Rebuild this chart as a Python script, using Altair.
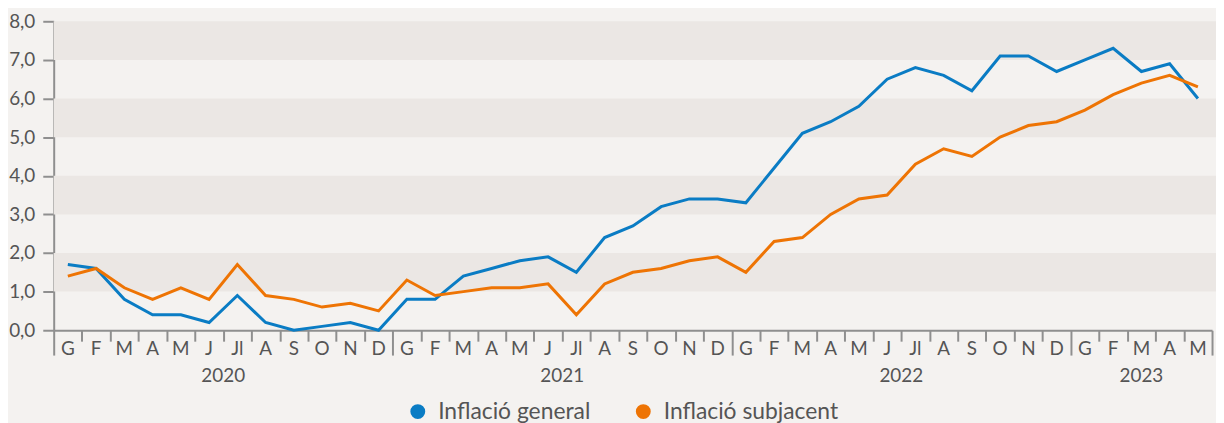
import altair as alt
import pandas as pd

months = ["G","F","M","A","M","J","Jl","A","S","O","N","D",
          "G","F","M","A","M","J","Jl","A","S","O","N","D",
          "G","F","M","A","M","J","Jl","A","S","O","N","D",
          "G","F","M","A","M"]
years = ["2020", "2021", "2022", "2023"]
year_centers = [6, 18, 30, 38.5]

general = [1.7,1.6,0.8,0.4,0.4,0.2,0.9,0.2,0.0,0.1,0.2,0.0,
           0.8,0.8,1.4,1.6,1.8,1.9,1.5,2.4,2.7,3.2,3.4,3.4,
           3.3,4.2,5.1,5.4,5.8,6.5,6.8,6.6,6.2,7.1,7.1,6.7,
           7.0,7.3,6.7,6.9,6.0]
subjacent = [1.4,1.6,1.1,0.8,1.1,0.8,1.7,0.9,0.8,0.6,0.7,0.5,
             1.3,0.9,1.0,1.1,1.1,1.2,0.4,1.2,1.5,1.6,1.8,1.9,
             1.5,2.3,2.4,3.0,3.4,3.5,4.3,4.7,4.5,5.0,5.3,5.4,
             5.7,6.1,6.4,6.6,6.3]
series_names = ["Inflació general", "Inflació subjacent"]
band_starts = [1, 3, 5, 7]

BLUE = "#0a7cc4"
ORANGE = "#ee7404"
BG = "#f4f2f0"
BAND = "#ebe7e4"
AXIS = "#8f8f8f"
TEXT = "#555555"
FONT = "Lato"

rows = []
for name, vals in zip(series_names, [general, subjacent]):
    for i, v in enumerate(vals):
        rows.append({"idx": i, "value": v, "serie": name})
lines_df = pd.DataFrame(rows)
months_df = pd.DataFrame({"idx": list(range(len(months))), "label": months})
years_df = pd.DataFrame({"pos": year_centers, "label": years})
bands_df = pd.DataFrame({"start": band_starts})

W, H = 1166, 311
xscale = alt.Scale(domain=[0, 41], nice=False, zero=False)
yscale = alt.Scale(domain=[0, 8], nice=False)

xaxis = alt.Axis(values=list(range(42)), labels=False, title=None, grid=False,
                 tickSize={"condition": {"test": "datum.value % 12 === 0 || datum.value === 41", "value": 25}, "value": 11},
                 tickColor=AXIS, tickWidth=2, domainColor=AXIS, domainWidth=2)
yaxis = alt.Axis(values=list(range(9)), title=None, grid=False, tickSize=11,
                 tickColor=AXIS, tickWidth=2, domainColor=AXIS, domainWidth=2,
                 labelExpr="replace(format(datum.value, '.1f'), '.', ',')",
                 labelFont=FONT, labelFontSize=19, labelColor=TEXT, labelPadding=8)

bands = alt.Chart(bands_df).transform_calculate(end="datum.start + 1").mark_rect(
    color=BAND
).encode(
    x=alt.X(datum=0, scale=xscale, axis=xaxis),
    x2=alt.X2(datum=41.2),
    y=alt.Y("start:Q", scale=yscale, axis=yaxis),
    y2="end:Q",
)

lines = alt.Chart(lines_df).transform_calculate(xpos="datum.idx + 0.5").mark_line(
    strokeWidth=3
).encode(
    x=alt.X("xpos:Q", scale=xscale, axis=xaxis),
    y=alt.Y("value:Q", scale=yscale, axis=yaxis),
    color=alt.Color("serie:N",
                    scale=alt.Scale(domain=series_names, range=[BLUE, ORANGE]),
                    legend=alt.Legend(title=None, orient="none", direction="horizontal",
                                      legendX=355, legendY=381, symbolType="circle",
                                      symbolSize=56, symbolStrokeWidth=7.5, symbolOpacity=1,
                                      labelFont=FONT, labelFontSize=23,
                                      labelColor=TEXT,
                                      labelOffset=9, columnPadding=33, padding=0,
                                      labelLimit=400)),
    detail="serie:N",
)

month_text = alt.Chart(months_df).transform_calculate(xpos="datum.idx + 0.5").mark_text(
    font=FONT, fontSize=19, color=TEXT, baseline="alphabetic", align="center"
).encode(
    x=alt.X("xpos:Q", scale=xscale, axis=xaxis),
    y=alt.value(336),
    text="label:N",
)

year_text = alt.Chart(years_df).mark_text(
    font=FONT, fontSize=19, color=TEXT, baseline="alphabetic", align="center"
).encode(
    x=alt.X("pos:Q", scale=xscale, axis=xaxis),
    y=alt.value(363),
    text="label:N",
)

chart = alt.layer(bands, lines, month_text, year_text).properties(
    width=W, height=H,
    autosize=alt.AutoSizeParams(type="none"),
    padding={"left": 46, "top": 12, "right": 4, "bottom": 92},
    background=BG,
).configure_view(stroke=None, fill=BG)

chart.save("out.html", embed_options={"renderer": "svg", "actions": False})
